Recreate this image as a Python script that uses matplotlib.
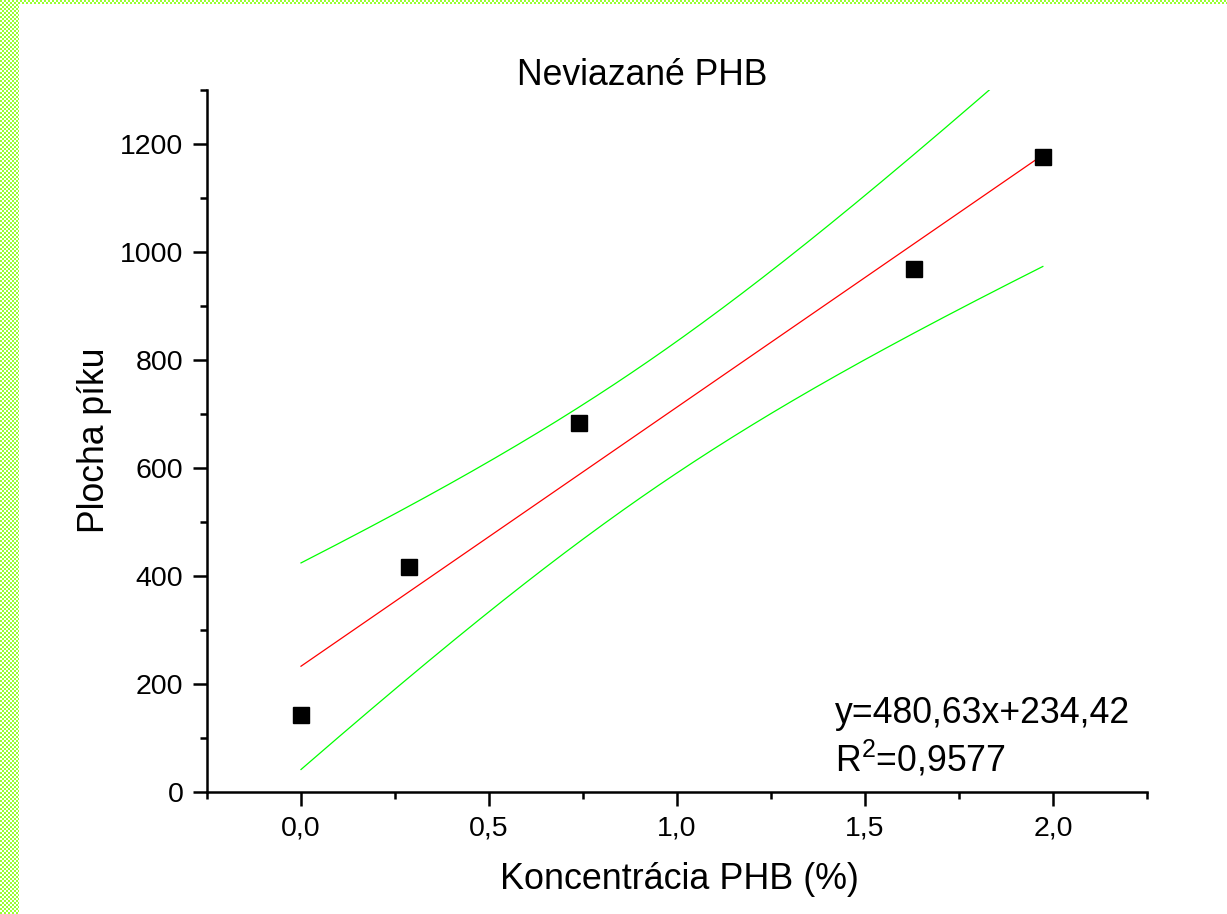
import numpy as np
import matplotlib
matplotlib.use("Agg")
import matplotlib.pyplot as plt
from matplotlib.ticker import MultipleLocator, FuncFormatter

# ---- data ----
conc = [0.0, 0.288, 0.740, 1.630, 1.973]      # Koncentrácia PHB (%)
area = [142, 417, 684, 968, 1176]             # Plocha píku
title = "Neviazané PHB"
xlabel = "Koncentrácia PHB (%)"
ylabel = "Plocha píku"
eq_text = "y=480,63x+234,42"
r2_text = "R$^{2}$=0,9577"
T_975_DF3 = 3.182446  # Student t, 95 % two-sided, 3 degrees of freedom

plt.rcParams['font.family'] = ['Liberation Sans', 'DejaVu Sans']
plt.rcParams['mathtext.fontset'] = 'custom'
plt.rcParams['mathtext.rm'] = 'Liberation Sans'
plt.rcParams['mathtext.it'] = 'Liberation Sans'
plt.rcParams['mathtext.bf'] = 'Liberation Sans:bold'

W, H, DPI = 1227, 914, 100
fig = plt.figure(figsize=(W / DPI, H / DPI), dpi=DPI)
fig.patch.set_facecolor('white')

# axes placement in pixels: left 207, right 1147, top 90, bottom 792
L, R, T, B = 207, 1147, 90, 792
ax = fig.add_axes([L / W, 1 - B / H, (R - L) / W, (B - T) / H])

x = np.array(conc, dtype=float)
y = np.array(area, dtype=float)
n = len(x)
slope, intercept = np.polyfit(x, y, 1)
resid = y - (slope * x + intercept)
s = np.sqrt(np.sum(resid ** 2) / (n - 2))
sxx = np.sum((x - x.mean()) ** 2)
xg = np.linspace(x.min(), x.max(), 300)
yg = slope * xg + intercept
hw = T_975_DF3 * s * np.sqrt(1 / n + (xg - x.mean()) ** 2 / sxx)

ax.plot(xg, yg, color='#ff0000', lw=0.9, zorder=2)
ax.plot(xg, yg + hw, color='#00ff00', lw=0.9, zorder=2)
ax.plot(xg, yg - hw, color='#00ff00', lw=0.9, zorder=2)
ax.plot(x, y, 's', color='black', ms=11.5, zorder=3, clip_on=False)

ax.set_xlim(-0.25, 2.25)
ax.set_ylim(0, 1300)
ax.xaxis.set_major_locator(MultipleLocator(0.5))
ax.xaxis.set_minor_locator(MultipleLocator(0.25))
ax.yaxis.set_major_locator(MultipleLocator(200))
ax.yaxis.set_minor_locator(MultipleLocator(100))
ax.xaxis.set_major_formatter(FuncFormatter(lambda v, p: f"{v:.1f}".replace('.', ',')))
ax.yaxis.set_major_formatter(FuncFormatter(lambda v, p: f"{int(round(v))}"))

for side in ['top', 'right']:
    ax.spines[side].set_visible(False)
for side in ['left', 'bottom']:
    ax.spines[side].set_linewidth(1.8)
ax.tick_params(which='major', direction='out', length=10, width=1.8, labelsize=20.5, pad=7)
ax.tick_params(which='minor', direction='out', length=5, width=1.8)

ax.text((835 - L) / (R - L), (B - 723) / (B - T), eq_text, transform=ax.transAxes,
        fontsize=25.7, ha='left', va='baseline')
ax.text((835 - L) / (R - L), (B - 772) / (B - T), r2_text, transform=ax.transAxes,
        fontsize=25.7, ha='left', va='baseline')

fig.text(642 / W, 1 - 85 / H, title, fontsize=25.6, ha='center', va='baseline')
fig.text(679 / W, 1 - 889 / H, xlabel, fontsize=25.8, ha='center', va='baseline')
fig.text(95 / W, 1 - 440 / H, ylabel, fontsize=25.6, ha='center', va='center', rotation=90)

# checkered green border strips (left and top)
green = np.array([153, 255, 51], dtype=np.uint8)
white = np.array([255, 255, 255], dtype=np.uint8)
def checker(h, w, cell=2):
    yy, xx = np.mgrid[0:h, 0:w]
    mask = ((yy // cell + xx // cell) % 2) == 0
    img = np.where(mask[..., None], green, white).astype(np.uint8)
    return img
fig.figimage(checker(H, 19), xo=0, yo=0, origin='upper', zorder=5)
fig.figimage(checker(4, W), xo=0, yo=H - 4, origin='upper', zorder=5)

fig.savefig('out.png', dpi=DPI)
